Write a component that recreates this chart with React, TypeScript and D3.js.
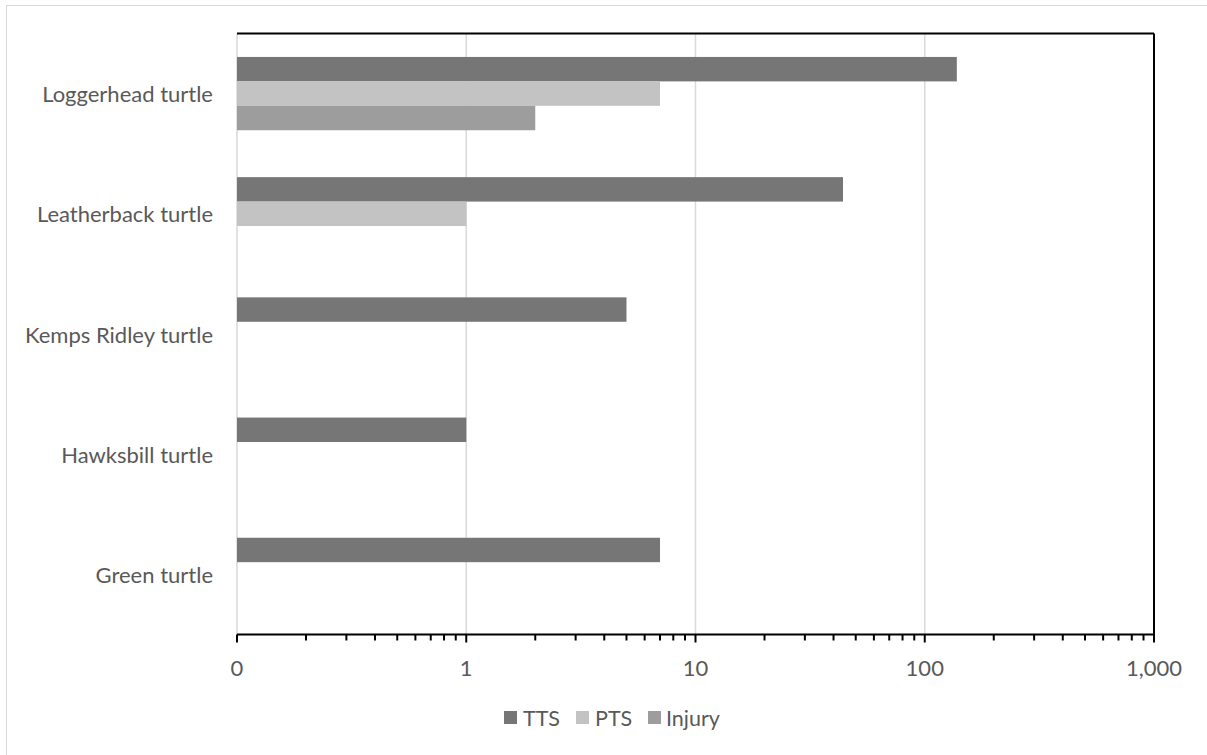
import React from "react";
import * as d3 from "d3";

const categories = ["Loggerhead turtle", "Leatherback turtle", "Kemps Ridley turtle", "Hawksbill turtle", "Green turtle"];
const seriesNames = ["TTS", "PTS", "Injury"];
const ttsValues = [138, 44, 5, 1, 7];
const ptsValues = [7, 1, 0, 0, 0];
const injuryValues = [2, 0, 0, 0, 0];
const tickValues = [0.1, 1, 10, 100, 1000];
const tickLabels = ["0", "1", "10", "100", "1,000"];
const colors = ["#767676", "#c3c3c3", "#9d9d9d"];

const W = 1207, H = 755;
const left = 237, right = 1154, top = 33.5, bottom = 634.5;
const FONT = "Lato, 'Open Sans', sans-serif";
const TXT = "#595959";

export default function App() {
  const x = d3.scaleLog().domain([0.1, 1000]).range([left, right]);
  const y = d3.scaleBand<string>().domain(categories).range([top, bottom]).padding(0);
  const inner = d3.scaleBand<string>().domain(seriesNames).range([0, y.bandwidth()]).paddingInner(0).paddingOuter(0.96);
  const allSeries = [ttsValues, ptsValues, injuryValues];

  const minor: number[] = [];
  for (let e = -1; e < 3; e++) for (let k = 2; k <= 9; k++) minor.push(k * Math.pow(10, e));

  const legendItems = [
    { name: seriesNames[0], sx: 504, tx: 523 },
    { name: seriesNames[1], sx: 576, tx: 595 },
    { name: seriesNames[2], sx: 648, tx: 666 },
  ];

  return (
    <svg width={W} height={H} style={{ position: "absolute", left: 0, top: 0, background: "#fff" }}>
      <rect x={6.5} y={5.5} width={1215} height={760} fill="#fff" stroke="#d9d9d9" strokeWidth={1} />
      {tickValues.slice(1, 4).map((t) => (
        <line key={"g" + t} x1={x(t)} x2={x(t)} y1={top} y2={bottom} stroke="#d9d9d9" strokeWidth={1.5} />
      ))}
      <line x1={left} x2={left} y1={top} y2={bottom} stroke="#d9d9d9" strokeWidth={1.5} />
      {allSeries.map((vals, si) =>
        vals.map((v, ci) =>
          v > 0 ? (
            <rect
              key={si + "-" + ci}
              x={x(0.1)}
              y={(y(categories[ci]) as number) + (inner(seriesNames[si]) as number)}
              width={x(v) - x(0.1)}
              height={inner.bandwidth()}
              fill={colors[si]}
            />
          ) : null
        )
      )}
      <line x1={left} x2={right} y1={top} y2={top} stroke="#000" strokeWidth={2} />
      <line x1={right} x2={right} y1={top} y2={bottom} stroke="#000" strokeWidth={2} />
      <line x1={left} x2={right + 1} y1={bottom} y2={bottom} stroke="#000" strokeWidth={2} />
      {tickValues.map((t) => (
        <line key={"t" + t} x1={x(t)} x2={x(t)} y1={bottom} y2={bottom + 8} stroke="#000" strokeWidth={2} />
      ))}
      {minor.map((t) => (
        <line key={"m" + t} x1={x(t)} x2={x(t)} y1={bottom} y2={bottom + 6} stroke="#000" strokeWidth={2} />
      ))}
      {tickValues.map((t, i) => (
        <text key={"l" + t} x={x(t)} y={667} textAnchor="middle" dominantBaseline="central" fontFamily={FONT} fontSize={22} fill={TXT}>
          {tickLabels[i]}
        </text>
      ))}
      {categories.map((c) => (
        <text key={c} x={213} y={(y(c) as number) + y.bandwidth() / 2} textAnchor="end" dominantBaseline="central" fontFamily={FONT} fontSize={22} fill={TXT}>
          {c}
        </text>
      ))}
      {legendItems.map((it, i) => (
        <g key={it.name}>
          <rect x={it.sx} y={711} width={13} height={13} fill={colors[i]} />
          <text x={it.tx} y={718} dominantBaseline="central" fontFamily={FONT} fontSize={21.5} fill={TXT}>
            {it.name}
          </text>
        </g>
      ))}
    </svg>
  );
}
